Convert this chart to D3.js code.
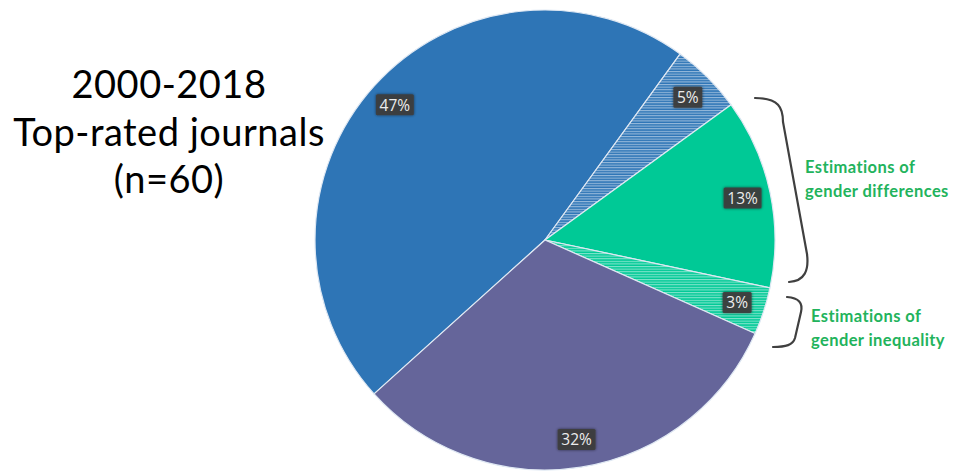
<!DOCTYPE html>
<html>
<head>
<meta charset="utf-8">
<script src="https://cdn.jsdelivr.net/npm/d3@7"></script>
<style>
  html, body { margin: 0; padding: 0; background: #fff; }
  svg { display: block; }
</style>
</head>
<body>
<svg id="chart" width="970" height="476"></svg>
<script>
// Articles in top-rated journals, 2000-2018 (n = 60)
const categories = ["other", "other-inequality", "differences", "inequality", "other-2"];
const counts = [28, 3, 8, 2, 19];
const fills = ["#2E75B6", "#2E75B6", "#00C996", "#00C996", "#65659A"];
const hatched = [false, true, false, true, false];
const titleLines = ["2000-2018", "Top-rated journals", "(n=60)"];
const noteDifferences = ["Estimations of", "gender differences"];
const noteInequality = ["Estimations of", "gender inequality"];

const total = d3.sum(counts);
const data = categories.map((c, i) => ({ key: c, count: counts[i], fill: fills[i], hatched: hatched[i] }));

const svg = d3.select("#chart");
const cx = 545, cy = 240, R = 230;

const defs = svg.append("defs");

// fine horizontal stripe patterns for the hatched slices
data.forEach((d, i) => {
  if (!d.hatched) return;
  const p = defs.append("pattern")
    .attr("id", "hatch" + i)
    .attr("patternUnits", "userSpaceOnUse")
    .attr("width", 8).attr("height", 2.6);
  p.append("rect").attr("width", 8).attr("height", 2.6).attr("fill", d.fill);
  p.append("rect").attr("y", 0).attr("width", 8).attr("height", 1.1)
    .attr("fill", "#ffffff").attr("opacity", 0.5);
});

const shadow = defs.append("filter").attr("id", "lblShadow")
  .attr("x", "-30%").attr("y", "-30%").attr("width", "160%").attr("height", "160%");
shadow.append("feGaussianBlur").attr("in", "SourceAlpha").attr("stdDeviation", 1.6).attr("result", "b");
shadow.append("feComponentTransfer").attr("in", "b").attr("result", "s")
  .append("feFuncA").attr("type", "linear").attr("slope", 0.6);
const m = shadow.append("feMerge");
m.append("feMergeNode").attr("in", "s");
m.append("feMergeNode").attr("in", "SourceGraphic");

const deg = Math.PI / 180;
const pie = d3.pie().sort(null).value(d => d.count)
  .startAngle(-132 * deg).endAngle(228 * deg);
const arcs = pie(data);

const arc = d3.arc().innerRadius(0).outerRadius(R);
const labelArc = d3.arc().innerRadius(202).outerRadius(202);

const g = svg.append("g").attr("transform", `translate(${cx},${cy})`);

g.selectAll("path.slice")
  .data(arcs)
  .join("path")
  .attr("class", "slice")
  .attr("d", arc)
  .attr("fill", (d, i) => d.data.hatched ? `url(#hatch${i})` : d.data.fill)
  .attr("stroke", "#dfe8f3")
  .attr("stroke-width", 1.2)
  .attr("stroke-linejoin", "round");

// value labels in dark boxes
const pct = d => Math.round(d.data.count / total * 100) + "%";
const lbl = g.selectAll("g.lbl")
  .data(arcs)
  .join("g")
  .attr("class", "lbl")
  .attr("transform", d => `translate(${labelArc.centroid(d)})`);

lbl.each(function (d) {
  const sel = d3.select(this);
  const t = pct(d);
  const w = t.length === 2 ? 29 : 38;
  sel.append("rect")
    .attr("x", -w / 2).attr("y", -10.5)
    .attr("width", w).attr("height", 21)
    .attr("rx", 1.5)
    .attr("fill", "#3e3e3e")
    .attr("fill-opacity", 0.92)
    .attr("filter", "url(#lblShadow)");
  sel.append("text")
    .attr("text-anchor", "middle")
    .attr("dy", "0.37em")
    .attr("font-family", "'Open Sans', 'DejaVu Sans', sans-serif")
    .attr("font-size", 15.5)
    .attr("fill", "#ececec")
    .text(t);
});

// title block
svg.append("g")
  .selectAll("text")
  .data(titleLines)
  .join("text")
  .attr("x", 169)
  .attr("y", (d, i) => 98 + i * 47.5)
  .attr("text-anchor", "middle")
  .attr("font-family", "Lato, 'Open Sans', sans-serif")
  .attr("font-size", 38)
  .attr("letter-spacing", 0.5)
  .attr("fill", "#000")
  .text(d => d);

// braces grouping the slices
svg.append("path")
  .attr("d", "M755,98 C779,98 783,108 783,122 L807,254 C809,270 805,281 789,282")
  .attr("fill", "none").attr("stroke", "#404040").attr("stroke-width", 2.2)
  .attr("stroke-linecap", "round");
svg.append("path")
  .attr("d", "M787,297 C799,298 803,303 801,312 L795,338 C793,345 786,347 773,347")
  .attr("fill", "none").attr("stroke", "#404040").attr("stroke-width", 2.2)
  .attr("stroke-linecap", "round");

function note(lines, x, y0) {
  svg.append("g").selectAll("text")
    .data(lines)
    .join("text")
    .attr("x", x)
    .attr("y", (d, i) => y0 + i * 24)
    .attr("font-family", "Lato, 'Open Sans', sans-serif")
    .attr("font-weight", "bold")
    .attr("font-size", 16.5)
    .attr("letter-spacing", 0.4)
    .attr("fill", "#22B35C")
    .text(d => d);
}
note(noteDifferences, 805, 173);
note(noteInequality, 811, 322);
</script>
</body>
</html>
